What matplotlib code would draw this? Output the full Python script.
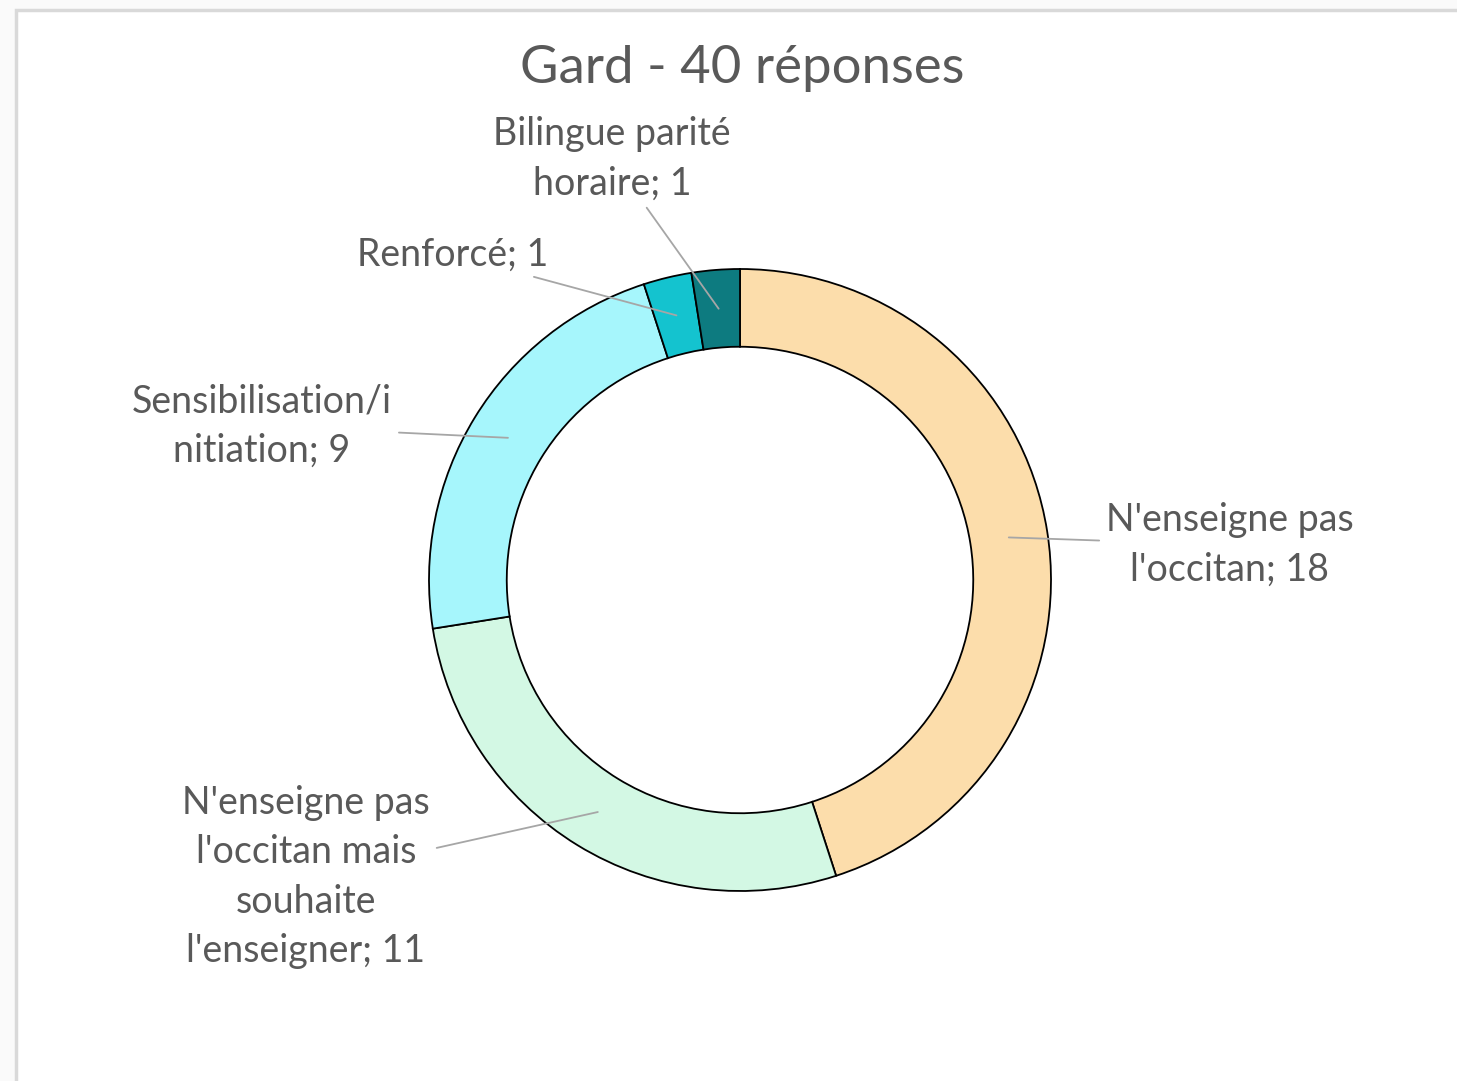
import numpy as np
import matplotlib.pyplot as plt

categories = ["N'enseigne pas\nl'occitan", "N'enseigne pas\nl'occitan mais\nsouhaite\nl'enseigner",
              "Sensibilisation/i\nnitiation", "Renforcé", "Bilingue parité\nhoraire"]
values = [18, 11, 9, 1, 1]
colors = ["#FCDDAB", "#D3F8E4", "#A6F6FC", "#14C3CF", "#0D7B80"]
title = "Gard - 40 réponses"

# label anchor positions in pixels (x, y from top)
label_pos = [(1230, 545), (306, 877), (262, 426), (453, 255), (612, 159)]

W, H = 1457, 1081
fig = plt.figure(figsize=(W / 100, H / 100), dpi=100, facecolor="#FAFAFA")
ax = fig.add_axes([0, 0, 1, 1])
ax.set_xlim(0, W)
ax.set_ylim(0, H)
ax.set_aspect("equal")
ax.axis("off")

# chart frame
ax.add_patch(plt.Rectangle((16, -20), W + 20, H - 10 + 20, facecolor="white",
                           edgecolor="#D9D9D9", lw=2.5, zorder=0))

cx, cy, R = 740, H - 580, 311
wedges, _ = ax.pie(values, colors=colors, startangle=90, counterclock=False,
                   center=(cx, cy), radius=R,
                   wedgeprops=dict(width=R * 0.25, edgecolor="black", linewidth=1.3))
ax.set_xlim(0, W)
ax.set_ylim(0, H)

font = "Lato"
txt_color = "#595959"
for w, cat, val, (lx, ly) in zip(wedges, categories, values, label_pos):
    ang = np.deg2rad((w.theta1 + w.theta2) / 2)
    r = R - R * 0.125
    px, py = cx + r * np.cos(ang), cy + r * np.sin(ang)
    ax.annotate(f"{cat}; {val}", xy=(px, py), xytext=(lx, H - ly),
                ha="center", va="center", fontsize=27, color=txt_color, family=font,
                linespacing=1.45,
                arrowprops=dict(arrowstyle="-", color="#A6A6A6", lw=1.3,
                                shrinkA=3, shrinkB=0))

ax.text(742, H - 68, title, ha="center", va="center", fontsize=38,
        color=txt_color, family=font)

fig.savefig("out.png", dpi=100, facecolor=fig.get_facecolor())
